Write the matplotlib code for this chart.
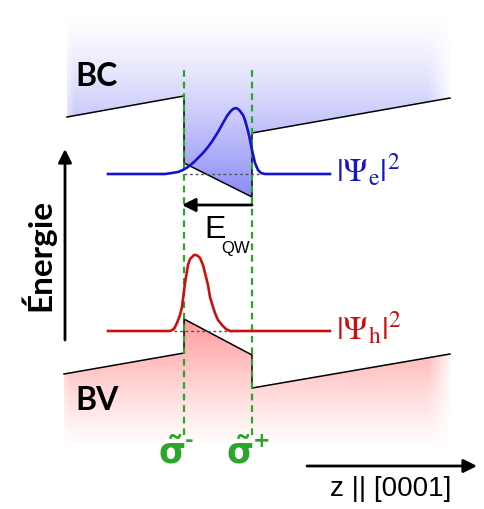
import numpy as np
import matplotlib
matplotlib.use("Agg")
import matplotlib.pyplot as plt
from matplotlib.patches import Polygon

# -------------------------------
# Data (z position, energy)
# -------------------------------
# conduction band edge (BC)
cb_z = [67, 184, 184, 252, 252, 450]
cb_E = [392, 413, 346, 312, 376, 411]

# valence band edge (BV)
vb_z = [64, 184, 184, 252, 252, 450]
vb_E = [135, 156, 190, 154, 121, 155]

# |Psi_e|^2 (electron), baseline at E = 335
psi_e_z = [108, 165, 172, 178, 183, 188, 193, 198, 203, 208, 213, 218, 223, 227,
           230, 233, 236, 238, 240, 243, 245, 248, 250, 252, 255, 258, 261, 265, 330]
psi_e_E = [335, 335, 336, 337, 339, 342, 346, 351, 356, 362, 369, 377, 386, 393,
           397, 400, 401, 400, 398, 394, 389, 378, 369, 359, 346, 339, 336, 335, 335]
psi_e_base = 335

# |Psi_h|^2 (hole), baseline at E = 178
psi_h_z = [108, 170, 174, 177, 180, 182, 185, 188, 190, 192, 194, 196, 198, 200,
           203, 205, 208, 210, 213, 215, 218, 222, 226, 230, 330]
psi_h_E = [178, 178, 180, 186, 194, 202, 226, 244, 250, 252, 254, 254, 253, 251,
           244, 236, 224, 212, 202, 196, 189, 184, 180, 178, 178]
psi_h_base = 178

# quantum well interfaces (polarisation charges)
well_z = [184, 252]
sigma_signs = ["-", "+"]

blue = "#1414cc"
red = "#cc1010"
green = "#2aa62a"

fig = plt.figure(figsize=(4.84, 5.09), dpi=100)
ax = fig.add_axes([0, 0, 1, 1])
ax.set_xlim(0, 484)
ax.set_ylim(0, 509)
ax.axis("off")

# -------------------------------
# Gradient fills above BC and below BV
# -------------------------------
gz = np.linspace(0, 484, 485)
gE = np.linspace(0, 509, 510)
Z, EE = np.meshgrid(gz, gE)

def gradient(rgb, alpha):
    img = np.zeros(Z.shape + (4,))
    img[..., 0], img[..., 1], img[..., 2] = rgb
    img[..., 3] = np.clip(alpha, 0, 1)
    return img

# blue (conduction band)
t = np.clip((500 - EE) / (500 - 312), 0, 1)
a_blue = 0.66 * t ** 1.4
a_blue *= np.clip((454 - Z) / 26, 0, 1) * np.clip((Z - 58) / 16, 0, 1)
poly_b = Polygon(list(zip(cb_z, cb_E)) + [(450, 505), (67, 505)], closed=True,
                 fc="none", ec="none")
ax.add_patch(poly_b)
im = ax.imshow(gradient((0.3, 0.3, 0.95), a_blue), extent=[0, 484, 0, 509],
               origin="lower", aspect="auto", zorder=0, interpolation="bilinear")
im.set_clip_path(poly_b)

# red (valence band)
t = np.clip((EE - 58) / (190 - 58), 0, 1)
a_red = 0.62 * t ** 1.2
a_red *= np.clip((454 - Z) / 26, 0, 1) * np.clip((Z - 52) / 18, 0, 1)
poly_r = Polygon(list(zip(vb_z, vb_E)) + [(450, 55), (64, 55)], closed=True,
                 fc="none", ec="none")
ax.add_patch(poly_r)
im2 = ax.imshow(gradient((1.0, 0.36, 0.36), a_red), extent=[0, 484, 0, 509],
                origin="lower", aspect="auto", zorder=0, interpolation="bilinear")
im2.set_clip_path(poly_r)

# -------------------------------
# Band edges
# -------------------------------
ax.plot(cb_z, cb_E, color="black", lw=1.1, zorder=2)
ax.plot(vb_z, vb_E, color="black", lw=1.1, zorder=2)

# green dashed interfaces
for z in well_z:
    ax.plot([z, z], [74, 439], color=green, lw=1.6, dashes=(3, 2.2), zorder=3)

# ground-state levels (dotted)
ax.plot([184, 261], [psi_e_base, psi_e_base], color="#555555", lw=1.0,
        dashes=(2, 2), zorder=3)
ax.plot([174, 240], [psi_h_base, psi_h_base], color="#555555", lw=1.0,
        dashes=(2, 2), zorder=3)

# wavefunctions
ax.plot(psi_e_z, psi_e_E, color=blue, lw=1.9, zorder=4, solid_joinstyle="round")
ax.plot(psi_h_z, psi_h_E, color=red, lw=1.9, zorder=4, solid_joinstyle="round")

# -------------------------------
# Arrows
# -------------------------------
arr = dict(arrowstyle="-|>", color="black", lw=2.0, mutation_scale=20,
           shrinkA=0, shrinkB=0)
ax.annotate("", xy=(65, 360), xytext=(65, 169), arrowprops=arr)
ax.annotate("", xy=(182, 304), xytext=(252, 304), arrowprops=arr)
ax.annotate("", xy=(477, 43), xytext=(307, 43), arrowprops=arr)

# -------------------------------
# Labels
# -------------------------------
ax.text(75, 433, "BC", fontsize=23, fontweight="bold", family="Lato",
        ha="left", va="center")
ax.text(75, 108, "BV", fontsize=23, fontweight="bold", family="Lato",
        ha="left", va="center")
ax.text(38, 254, "Énergie", fontsize=24, fontweight="bold", family="Lato",
        rotation=90, ha="center", va="center")

ax.text(204, 271, "E", fontsize=23, family="Liberation Sans", ha="left",
        va="baseline")
ax.text(221, 256, "QW", fontsize=12, family="Liberation Sans", ha="left",
        va="baseline")

ax.text(336, 339, r"$|\Psi_{\mathrm{e}}|^2$", fontsize=24, color=blue,
        ha="left", va="center", math_fontfamily="stix")
ax.text(336, 181, r"$|\Psi_{\mathrm{h}}|^2$", fontsize=24, color=red,
        ha="left", va="center", math_fontfamily="stix")

for z, sign in zip(well_z, sigma_signs):
    ax.text(z - 12, 46, r"$\mathbf{\tilde{\sigma}}$", fontsize=25, color=green,
            ha="center", va="baseline", math_fontfamily="dejavusans")
    ax.text(z + 1, 68, sign, fontsize=15, color=green, ha="left",
            va="center", fontweight="bold", family="DejaVu Sans")

ax.text(391, 20, "z || [0001]", fontsize=20, family="Liberation Sans",
        ha="center", va="center")

fig.savefig("out.png", dpi=100)
